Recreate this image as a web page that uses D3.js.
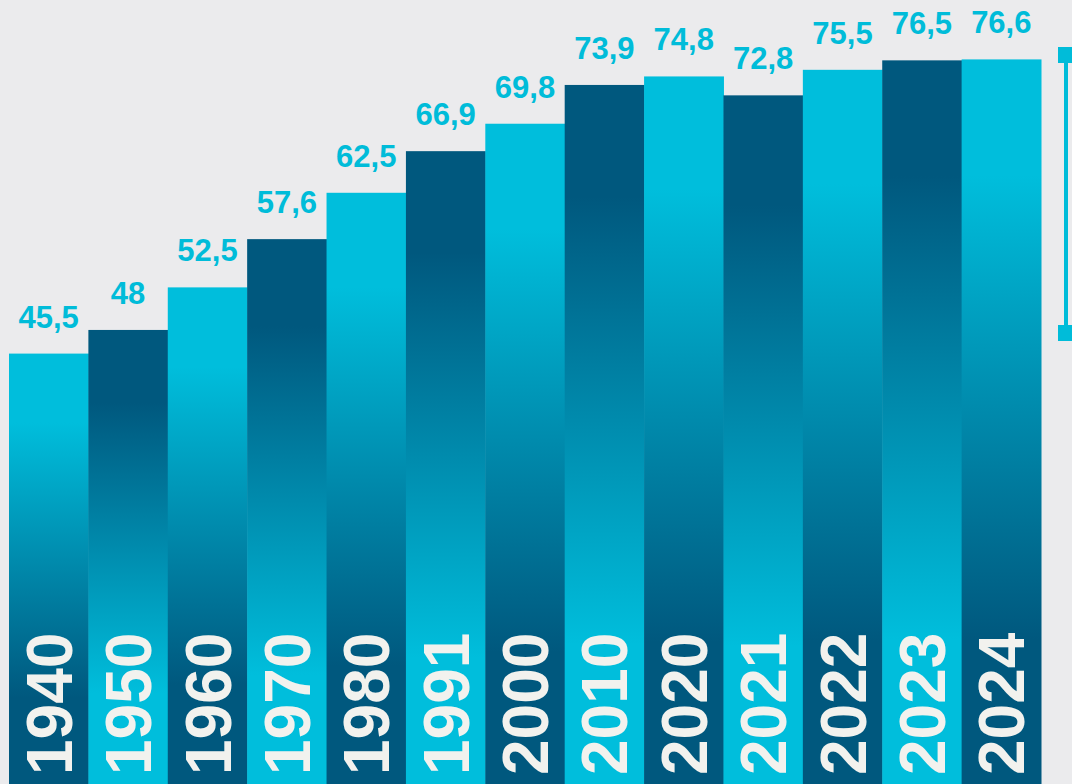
<!DOCTYPE html>
<html>
<head>
<meta charset="utf-8">
<script src="https://cdn.jsdelivr.net/npm/d3@7/dist/d3.min.js"></script>
<style>
  html, body { margin: 0; padding: 0; background: #EBEBED; }
  svg { display: block; }
</style>
</head>
<body>
<svg id="chart" width="1072" height="784"></svg>
<script>
// ---- data ----
const years  = ["1940","1950","1960","1970","1980","1991","2000","2010","2020","2021","2022","2023","2024"];
const values = [45.5, 48, 52.5, 57.6, 62.5, 66.9, 69.8, 73.9, 74.8, 72.8, 75.5, 76.5, 76.6];
const valueLabels = ["45,5","48","52,5","57,6","62,5","66,9","69,8","73,9","74,8","72,8","75,5","76,5","76,6"];

// ---- styling ----
const W = 1072, H = 784;
const CYAN = "#00BEDC", DARK = "#00587E", LABEL = "#00BCD9", YEARTXT = "#F2F2EE";

const svg = d3.select("#chart");
svg.append("rect").attr("width", W).attr("height", H).attr("fill", "#EBEBED");

const x = d3.scaleBand().domain(years).range([9, 1041]).padding(0);
const y = d3.scaleLinear().domain([0, 82.88]).range([H, 0]);

const data = years.map((yr, i) => ({ year: yr, value: values[i], label: valueLabels[i], i }));

const defs = svg.append("defs");
[["gLight", CYAN, DARK], ["gDark", DARK, CYAN]].forEach(([id, c0, c1]) => {
  const g = defs.append("linearGradient").attr("id", id)
    .attr("x1", 0).attr("x2", 0).attr("y1", 0).attr("y2", 1);
  g.append("stop").attr("offset", 0.16).attr("stop-color", c0);
  g.append("stop").attr("offset", 0.8).attr("stop-color", c1);
});

svg.append("g").selectAll("rect").data(data).join("rect")
  .attr("x", d => x(d.year))
  .attr("width", x.bandwidth() + 0.5)
  .attr("y", d => y(d.value))
  .attr("height", d => H - y(d.value))
  .attr("fill", d => d.i % 2 === 0 ? "url(#gLight)" : "url(#gDark)");

// value labels
svg.append("g").selectAll("text").data(data).join("text")
  .attr("x", d => x(d.year) + x.bandwidth() / 2)
  .attr("y", d => y(d.value) - 26)
  .attr("text-anchor", "middle")
  .attr("font-family", "'Liberation Sans', Arial, sans-serif")
  .attr("font-weight", "bold")
  .attr("font-size", 31)
  .attr("fill", LABEL)
  .text(d => d.label);

// year labels (rotated)
svg.append("g").selectAll("text").data(data).join("text")
  .attr("transform", d => `translate(${x(d.year) + x.bandwidth() / 2},775) rotate(-90)`)
  .attr("dy", "0.36em")
  .attr("text-anchor", "start")
  .attr("font-family", "'Liberation Sans', Arial, sans-serif")
  .attr("font-weight", "bold")
  .attr("font-size", 64)
  .attr("fill", YEARTXT)
  .text(d => d.year);

// decorative bracket on the right
const br = svg.append("g").attr("fill", LABEL);
br.append("rect").attr("x", 1058).attr("y", 47).attr("width", 16).attr("height", 16);
br.append("rect").attr("x", 1064).attr("y", 62).attr("width", 4).attr("height", 264);
br.append("rect").attr("x", 1058).attr("y", 325).attr("width", 16).attr("height", 16);
</script>
</body>
</html>
